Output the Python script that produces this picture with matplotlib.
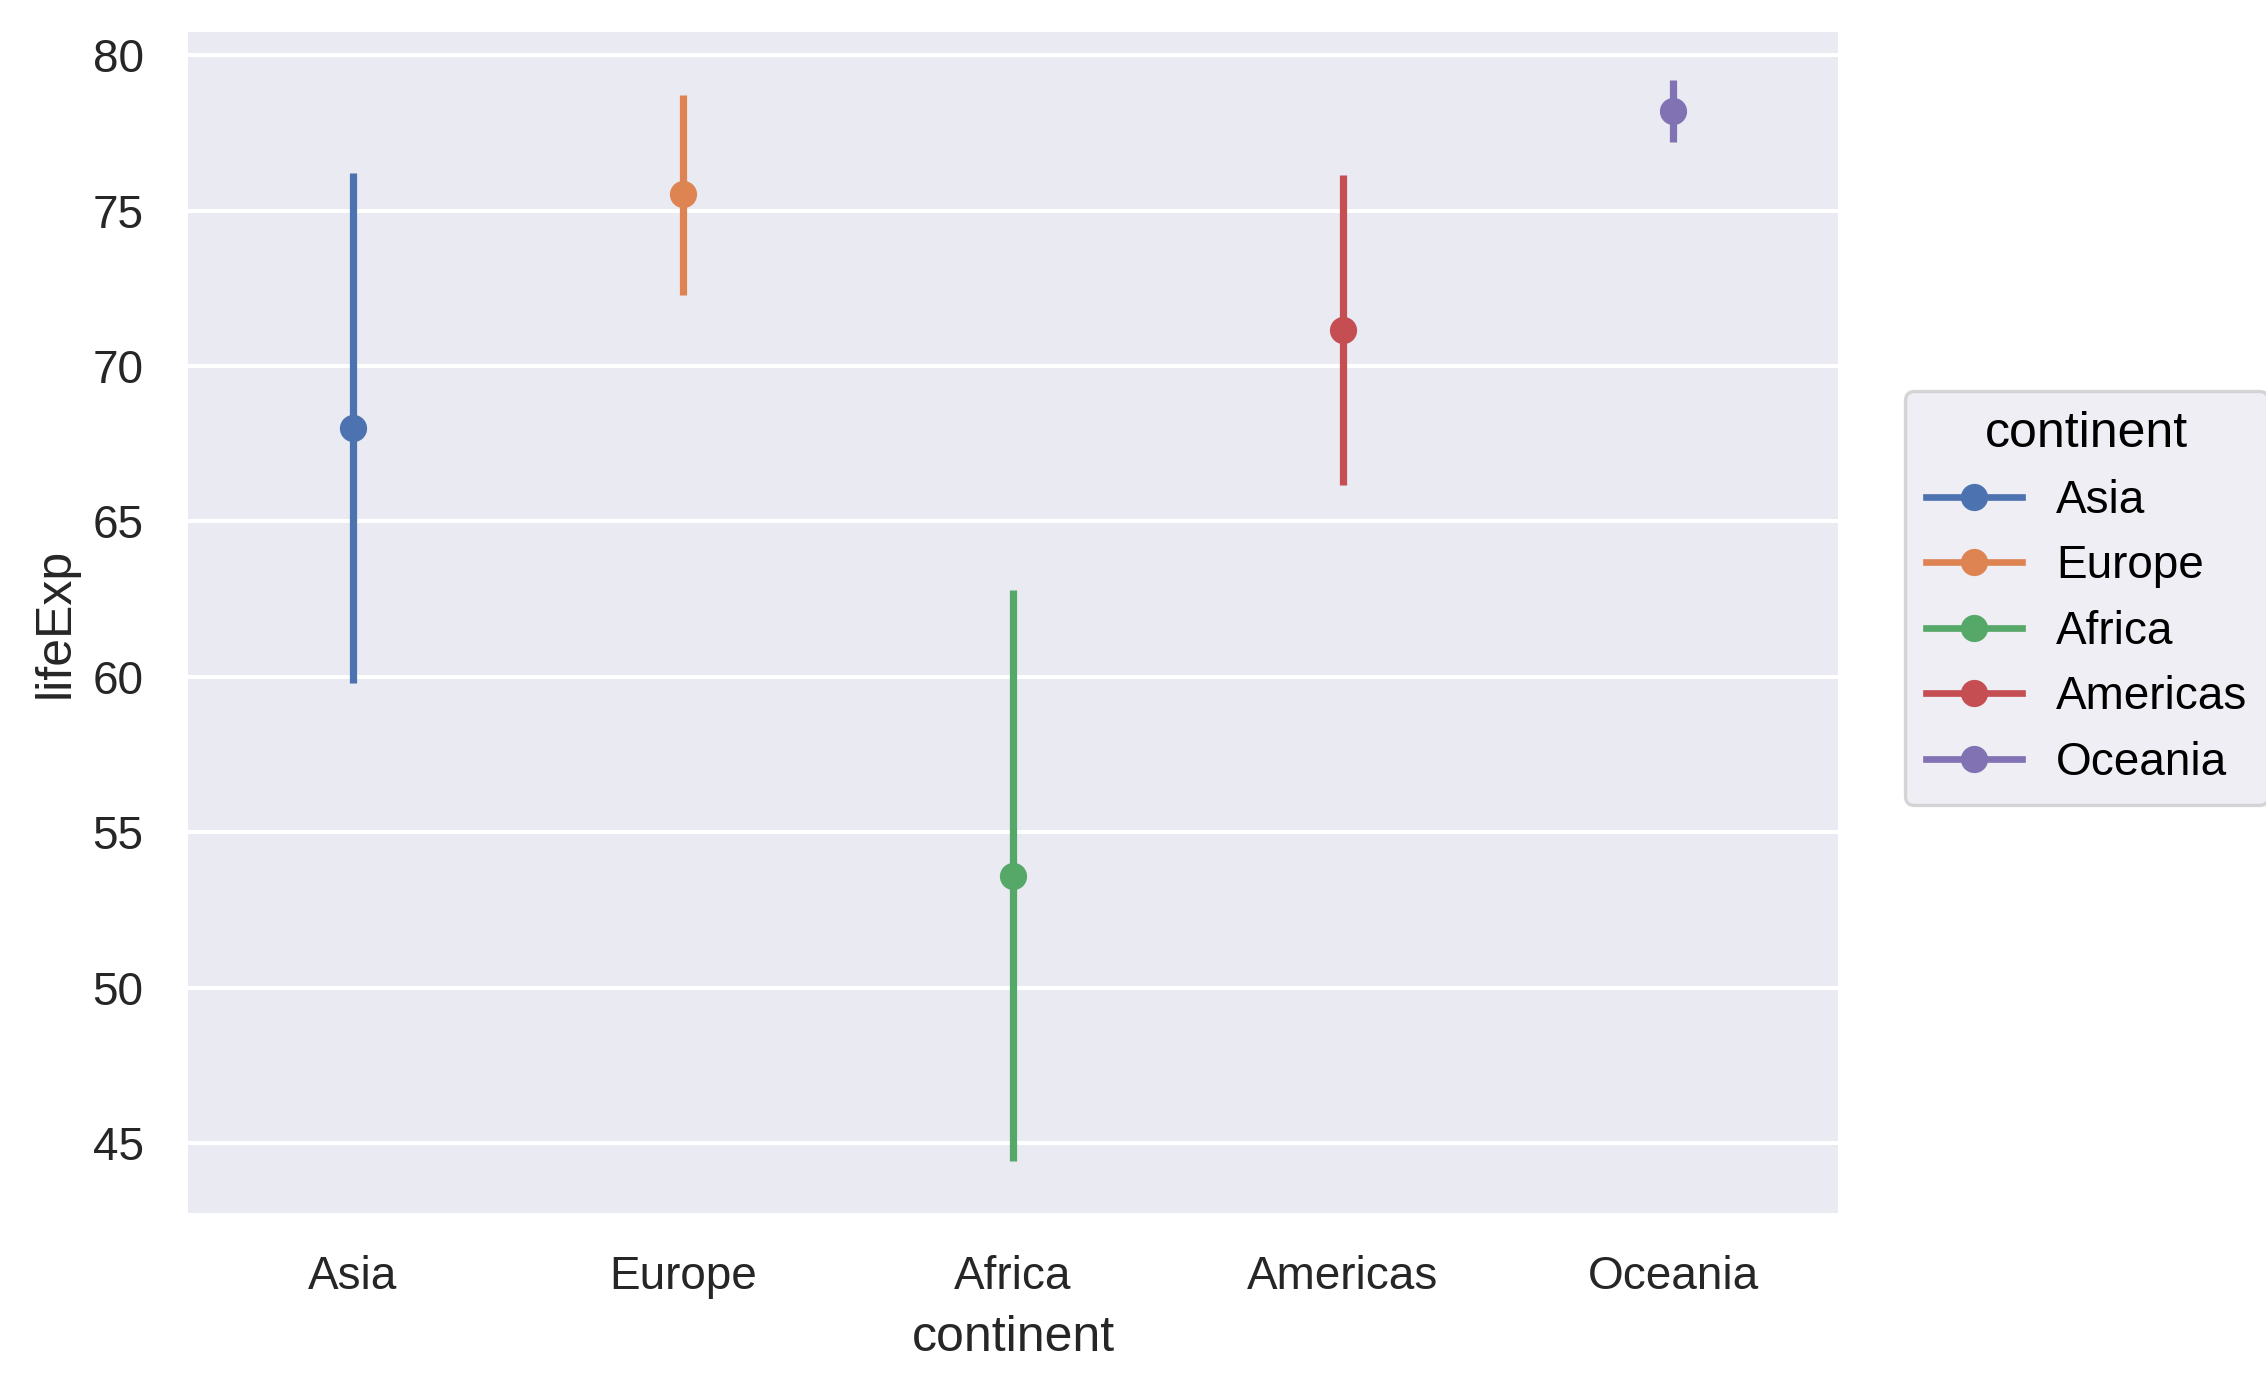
import numpy as np
import matplotlib
matplotlib.use("Agg")
import matplotlib.pyplot as plt
from matplotlib.lines import Line2D

# point estimate and interval for each continent
continents = ["Asia", "Europe", "Africa", "Americas", "Oceania"]
life_exp = [68.02, 75.53, 53.60, 71.16, 78.20]
life_min = [59.80, 72.30, 44.41, 66.17, 77.21]
life_max = [76.22, 78.72, 62.81, 76.16, 79.20]
colors = ["#4C72B0", "#DD8452", "#55A868", "#C44E52", "#8172B3"]

plt.rcParams["font.family"] = ["Liberation Sans", "DejaVu Sans"]
fs = 16.5
fs_lab = 18

fig = plt.figure(figsize=(11.33, 6.955), dpi=200)
ax = fig.add_axes([188 / 2266, 1 - 1213 / 1391, (1838 - 188) / 2266, (1213 - 32) / 1391])
ax.set_facecolor("#EAEAF2")
for s in ax.spines.values():
    s.set_visible(False)
ax.grid(axis="y", color="white", linewidth=1.45)
ax.set_axisbelow(True)

x = np.arange(len(continents))
for i in range(len(continents)):
    ax.vlines(x[i], life_min[i], life_max[i], color=colors[i], linewidth=2.6, zorder=2)
    ax.plot(x[i], life_exp[i], "o", color=colors[i], markersize=9.8, zorder=3,
            markeredgewidth=0)

ax.set_xlim(-0.5, len(continents) - 0.5)
ax.set_ylim(42.75, 80.75)
ax.set_yticks([45, 50, 55, 60, 65, 70, 75, 80])
ax.set_xticks(x)
ax.set_xticklabels(continents)
ax.tick_params(axis="both", length=0, labelsize=fs, colors="#262626")
ax.tick_params(axis="y", pad=16)
ax.tick_params(axis="x", pad=15)
ax.set_xlabel("continent", fontsize=fs_lab, color="#262626", labelpad=6)
ax.set_ylabel("lifeExp", fontsize=fs_lab, color="#262626", labelpad=5)

handles = [Line2D([0], [0], color=c, linewidth=2.4, marker="o", markersize=9.8,
                  markeredgewidth=0) for c in colors]
leg = fig.legend(handles, continents, title="continent", loc="center left",
                 bbox_to_anchor=(1905 / 2266, 1 - 598 / 1391), borderaxespad=0,
                 fontsize=fs, title_fontsize=fs_lab, frameon=True, handlelength=2.1,
                 handletextpad=0.75, labelspacing=0.47, borderpad=0.45)
leg.get_frame().set_facecolor("#EAEAF2")
leg.get_frame().set_edgecolor("#CCCCCC")
leg.get_frame().set_linewidth(1.2)
leg.get_frame().set_alpha(0.8)

fig.savefig("out.png", dpi=200)
